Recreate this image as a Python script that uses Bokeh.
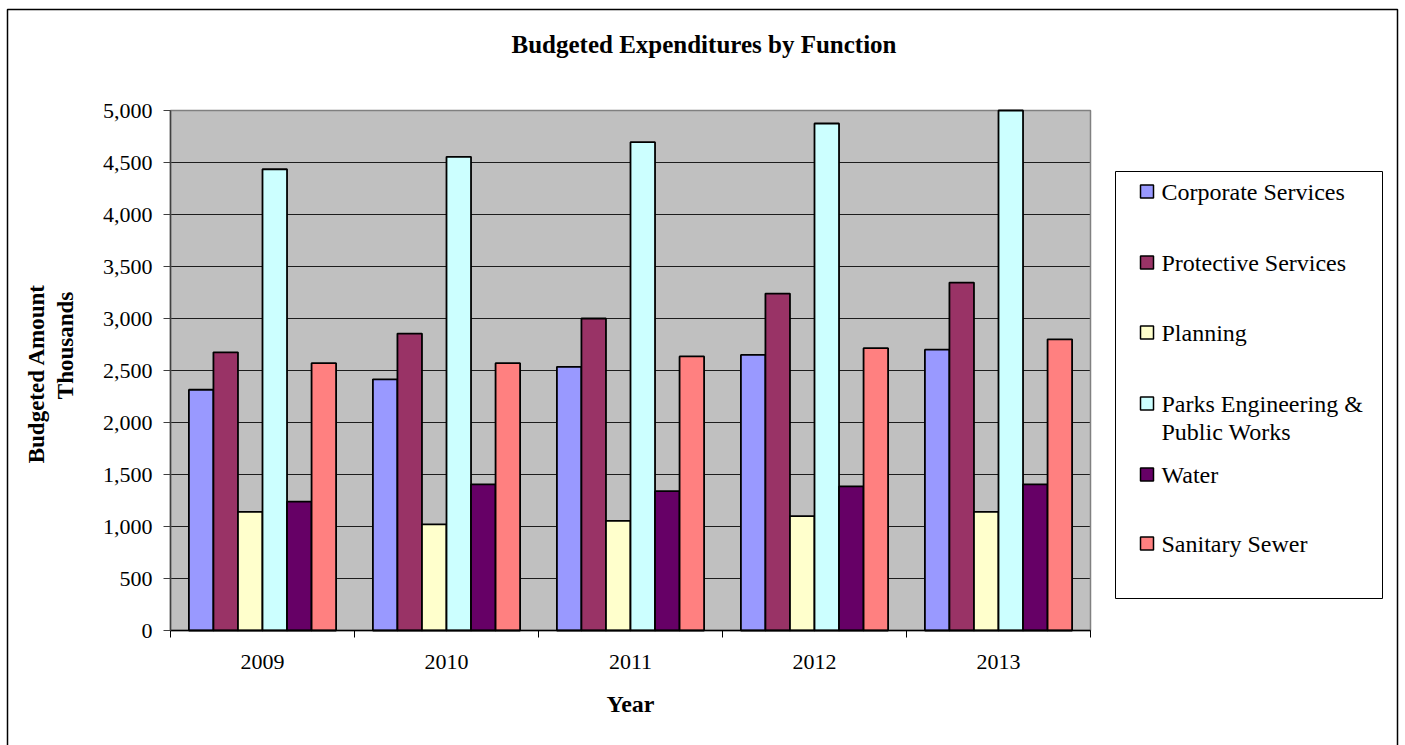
import numpy as np
from bokeh.plotting import figure
from bokeh.models import Range1d, FixedTicker, NumeralTickFormatter, LinearAxis, Grid
from bokeh.core.properties import value
from bokeh.embed import file_html
from bokeh.resources import INLINE

# Budgeted expenditures (thousands of dollars) by function and year
years = ["2009", "2010", "2011", "2012", "2013"]
corporate_services = [2315, 2415, 2535, 2650, 2700]
protective_services = [2675, 2855, 3000, 3240, 3345]
planning = [1140, 1020, 1055, 1100, 1140]
parks_engineering_public_works = [4435, 4555, 4695, 4875, 5000]
water = [1240, 1405, 1340, 1385, 1405]
sanitary_sewer = [2570, 2570, 2635, 2715, 2800]

series_names = ["Corporate Services", "Protective Services", "Planning",
                "Parks Engineering &\nPublic Works", "Water", "Sanitary Sewer"]
series_values = [corporate_services, protective_services, planning,
                 parks_engineering_public_works, water, sanitary_sewer]
series_colors = ["#9999FF", "#993366", "#FFFFCC", "#CCFFFF", "#660066", "#FF8080"]

y_ticks = list(range(0, 5001, 500))
y_max = 5000

SERIF = "Liberation Serif"
W, H = 1405, 745
# plot area in canvas pixels
PL, PR, PT, PB = 170, 1090, 110, 630

n_cat = len(years)
ux = n_cat / (PR - PL)           # data units per pixel, x
uy = y_max / (PB - PT)           # data units per pixel, y

# the frame fills the whole canvas; ranges are extended so that the
# category slots and the 0..5000 scale land on the plot area
p = figure(width=W, height=H, output_backend="svg", toolbar_location=None,
           title=None, x_axis_location=None, y_axis_location=None,
           x_range=Range1d(-PL * ux, n_cat + (W - PR) * ux),
           y_range=Range1d(-(H - PB) * uy, y_max + PT * uy),
           min_border=0, outline_line_color=None,
           background_fill_color="white", border_fill_color="white")
# no automatic grids: the grid lines are drawn only inside the plot area
p.center = [r for r in p.center if not isinstance(r, Grid)]
# pixel coordinate system for the surrounding decorations
p.extra_x_ranges = {"px": Range1d(0, W)}
p.extra_y_ranges = {"px": Range1d(H, 0)}
PX = dict(x_range_name="px", y_range_name="px")

# plot area background, grid lines and frame
p.quad(left=[0], right=[n_cat], bottom=[0], top=[y_max],
       fill_color="#C0C0C0", line_color=None)
grid_y = [t for t in y_ticks if 0 < t < y_max]
p.segment(x0=[0] * len(grid_y), x1=[n_cat] * len(grid_y), y0=grid_y, y1=grid_y,
          line_color="black", line_width=1, line_alpha=0.85)
p.quad(left=[0], right=[n_cat], bottom=[0], top=[y_max],
       fill_color=None, line_color="#808080", line_width=1.5)

# clustered bars: six series share 80% of each year's slot
idx = np.arange(n_cat)
n = len(series_values)
group = 0.8
bw = group / n
for k, (vals, col) in enumerate(zip(series_values, series_colors)):
    xs = idx + (1 - group) / 2 + (k + 0.5) * bw
    p.vbar(x=xs, top=vals, bottom=0, width=bw, fill_color=col,
           line_color="black", line_width=1.8)

# x axis pinned at y = 0: labels centred on each year, ticks on slot edges
xa = LinearAxis(fixed_location=0, bounds=(0, n_cat))
xa.ticker = FixedTicker(ticks=[float(i) + 0.5 for i in idx],
                        minor_ticks=[float(i) for i in range(n_cat + 1)])
xa.major_label_overrides = {float(i) + 0.5: y for i, y in zip(idx, years)}
xa.major_tick_line_color = None
xa.major_tick_out = 0
xa.major_tick_in = 0
xa.minor_tick_line_color = "black"
xa.minor_tick_out = 7
xa.minor_tick_in = 0
xa.axis_line_color = "black"
xa.axis_line_width = 1.5
xa.major_label_standoff = 17
xa.major_label_text_font = SERIF
xa.major_label_text_font_size = "22px"
xa.major_label_text_color = "black"
xa.axis_label = "Year"
xa.axis_label_text_font = SERIF
xa.axis_label_text_font_size = "24px"
xa.axis_label_text_font_style = "bold"
xa.axis_label_text_color = "black"
xa.axis_label_standoff = 19
p.add_layout(xa, "below")

# y axis pinned at x = 0
ya = LinearAxis(fixed_location=0, bounds=(0, y_max))
ya.ticker = FixedTicker(ticks=y_ticks, minor_ticks=[])
ya.formatter = NumeralTickFormatter(format="0,0")
ya.major_tick_out = 7
ya.major_tick_in = 0
ya.major_tick_line_color = "#404040"
ya.axis_line_color = "#404040"
ya.axis_line_width = 1.5
ya.major_label_standoff = 11
ya.major_label_text_font = SERIF
ya.major_label_text_font_size = "22px"
ya.major_label_text_color = "black"
p.add_layout(ya, "left")

# chart title and y-axis title
p.text(x=[W / 2 + 1], y=[44], text=["Budgeted Expenditures by Function"],
       text_font=value(SERIF), text_font_size="25px", text_font_style="bold",
       text_color="black", text_align="center", text_baseline="middle", **PX)
p.text(x=[36, 65], y=[373, 345], text=["Budgeted Amount", "Thousands"],
       angle=np.pi / 2, text_font=value(SERIF), text_font_size="23px",
       text_font_style="bold", text_color="black",
       text_align="center", text_baseline="middle", **PX)

# legend
p.quad(left=[1115], right=[1382], top=[171], bottom=[598],
       fill_color="white", line_color="black", line_width=1, **PX)
item_y = [191, 262, 332, 403, 474, 543]
sq = 6.5
p.quad(left=[1140] * n, right=[1153] * n,
       top=[c - sq for c in item_y], bottom=[c + sq for c in item_y],
       fill_color=series_colors, line_color="black", line_width=1.5, **PX)
lx, ly, lt = [], [], []
for name, cy in zip(series_names, item_y):
    for j, line in enumerate(name.split("\n")):
        lx.append(1161)
        ly.append(cy + 28.5 * j)
        lt.append(line)
p.text(x=lx, y=ly, text=lt, text_font=value(SERIF), text_font_size="24px",
       text_color="black", text_align="left", text_baseline="middle", **PX)

# chart border
p.line(x=[7, 7, 1397, 1397], y=[H + 20, 9, 9, H + 20],
       line_color="black", line_width=1.5, **PX)

open("out.html", "w").write(file_html(p, INLINE))
